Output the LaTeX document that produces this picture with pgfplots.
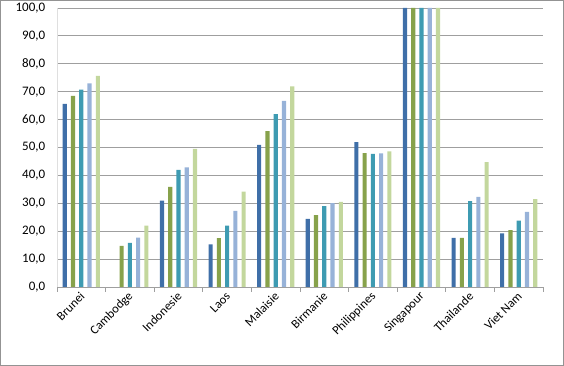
\documentclass[border=0pt]{standalone}
\usepackage{pgfplots}
\pgfplotsset{compat=1.18}
\usepackage{fontspec}
\setmainfont{Carlito}
\definecolor{c1}{HTML}{3F6FA8}
\definecolor{c2}{HTML}{87A24B}
\definecolor{c3}{HTML}{3E9BB2}
\definecolor{c4}{HTML}{97B2D8}
\definecolor{c5}{HTML}{C3D79D}
\begin{document}
\begin{tikzpicture}
\useasboundingbox (0,0) rectangle (564pt,366pt);
\draw[draw=gray!85, line width=1.4pt] (0.7pt,0.7pt) rectangle (563.3pt,365.3pt);
\begin{axis}[
  at={(57pt,79pt)}, anchor=south west,
  scale only axis, width=486pt, height=279pt,
  xmin=-0.5, xmax=9.5, ymin=0, ymax=100,
  ybar, bar width=0.085,
  ytick={0,10,...,100},
  ymajorgrids, grid style={gray!75, line width=0.8pt},
  axis x line*=bottom, axis y line*=left,
  x axis line style={gray!75, line width=0.8pt},
  y axis line style={gray!25, line width=0.8pt},
  ytick style={draw=none},
  xtick={0,...,9},
  xticklabels={Brunei,Cambodge,Indonesie,Laos,Malaisie,Birmanie,Philippines,Singapour,Thailande,Viet Nam},
  major x tick style={draw=none},
  minor xtick={-0.5,0.5,...,9.5},
  minor x tick style={gray!75, line width=0.8pt},
  minor tick length=5pt, tick align=outside,
  xticklabel style={rotate=45, anchor=east, font=\fontsize{12.5}{14}\selectfont, xshift=2pt, yshift=-3pt},
  yticklabel style={font=\fontsize{13}{15}\selectfont, xshift=-4pt},
  /pgf/number format/.cd, fixed, fixed zerofill, precision=1, use comma, assume math mode=true,
]
\addplot[fill=c1, draw=none, bar shift=-0.34] coordinates {(0,65.6) (2,31.0) (3,15.3) (4,50.9) (5,24.4) (6,51.9) (7,100) (8,17.6) (9,19.2)};
\addplot[fill=c2, draw=none, bar shift=-0.17] coordinates {(0,68.5) (1,14.7) (2,35.9) (3,17.5) (4,55.9) (5,25.8) (6,48.0) (7,100) (8,17.6) (9,20.4)};
\addplot[fill=c3, draw=none, bar shift=0] coordinates {(0,70.7) (1,15.8) (2,42.0) (3,22.0) (4,62.0) (5,29.0) (6,47.7) (7,100) (8,30.8) (9,23.8)};
\addplot[fill=c4, draw=none, bar shift=0.17] coordinates {(0,73.0) (1,17.7) (2,42.9) (3,27.3) (4,66.7) (5,30.1) (6,47.9) (7,100) (8,32.3) (9,26.9)};
\addplot[fill=c5, draw=none, bar shift=0.34] coordinates {(0,75.7) (1,22.0) (2,49.5) (3,34.2) (4,71.9) (5,30.5) (6,48.6) (7,100) (8,44.8) (9,31.5)};
\end{axis}
\end{tikzpicture}
\end{document}
